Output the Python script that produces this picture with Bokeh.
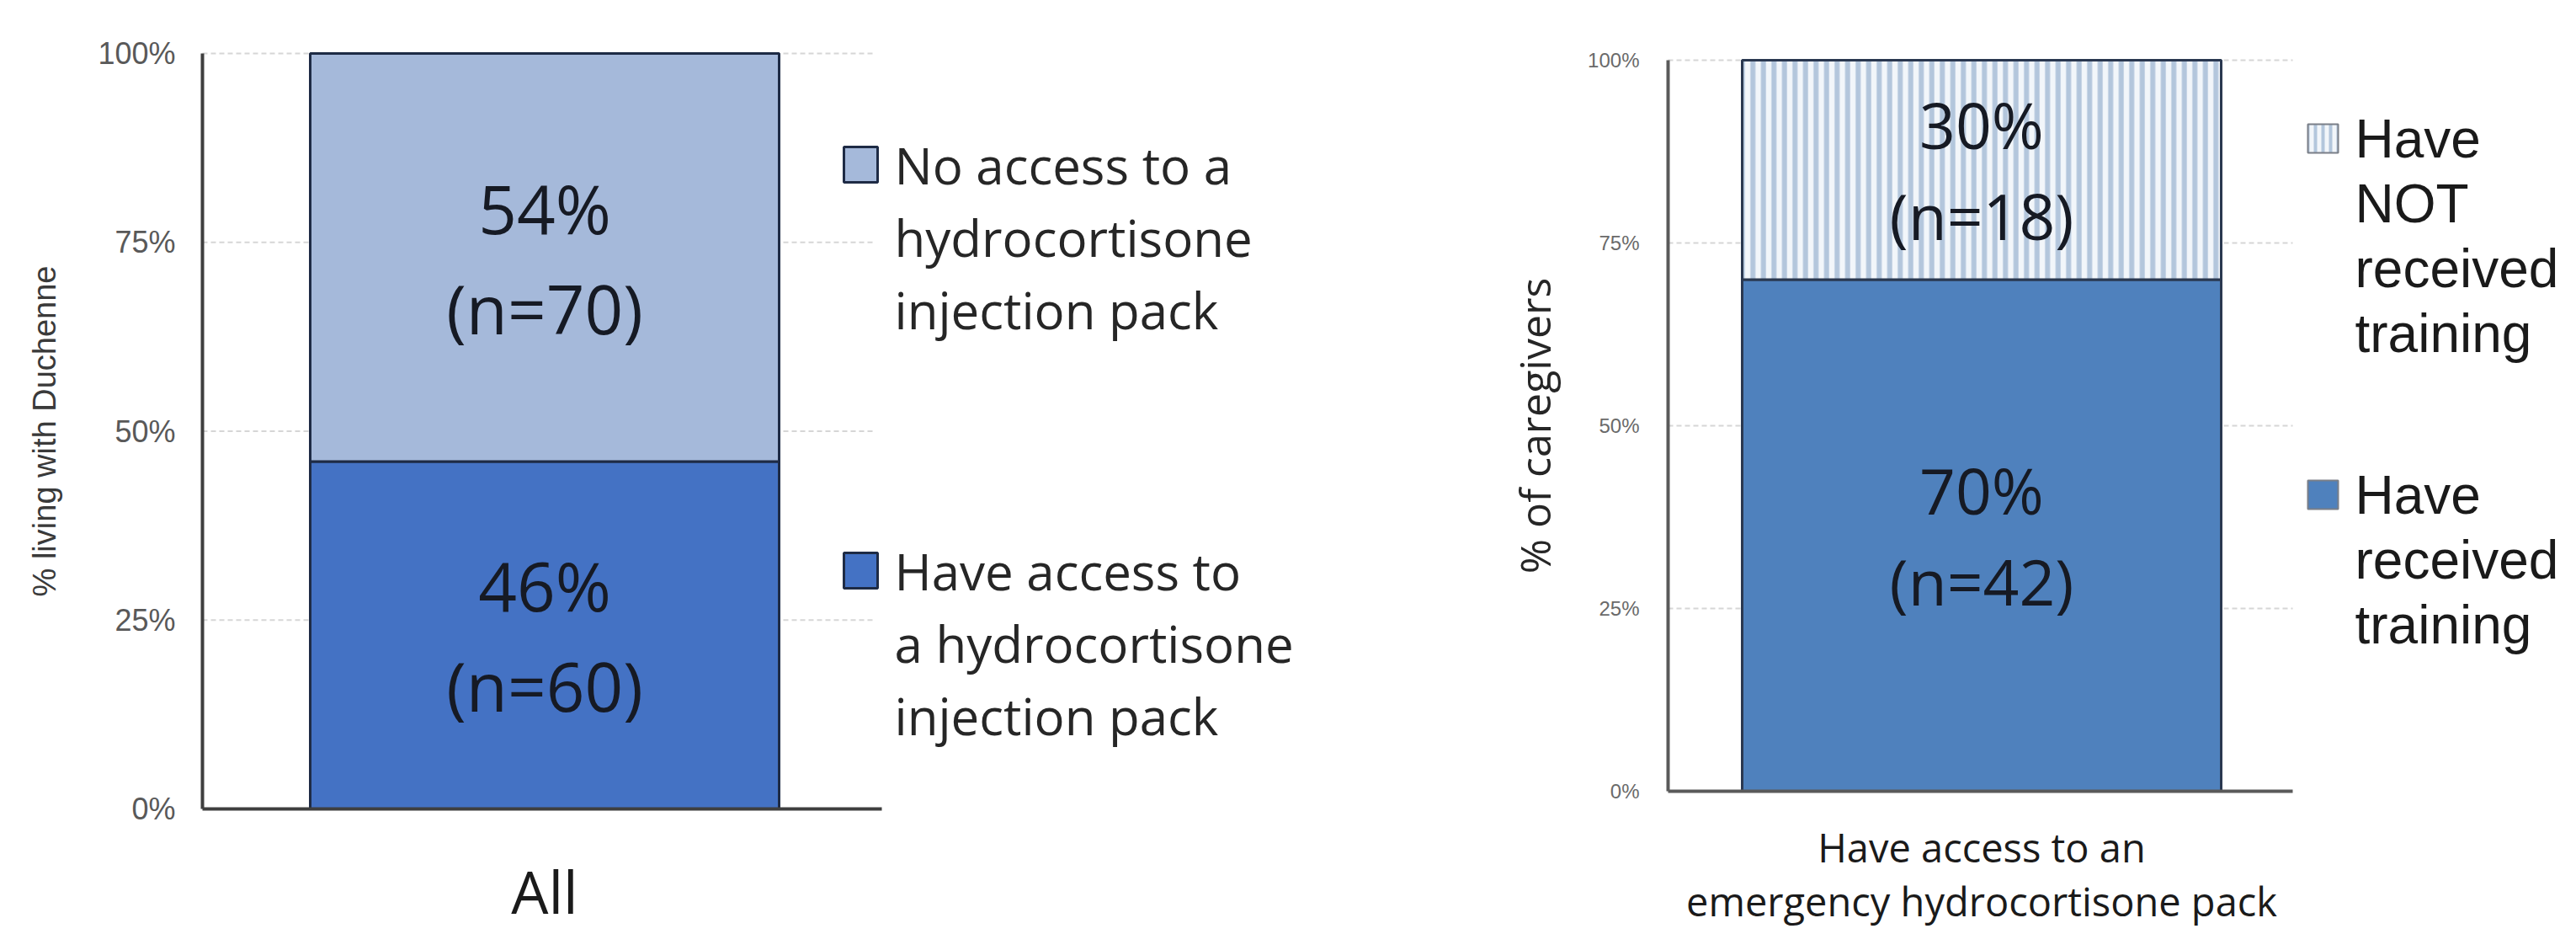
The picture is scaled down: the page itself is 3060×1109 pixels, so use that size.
from bokeh.plotting import figure
from bokeh.models import (Range1d, FixedTicker, NumeralTickFormatter, ColumnDataSource,
                          LinearAxis)
from bokeh.core.properties import value
from bokeh.embed import file_html
from bokeh.resources import INLINE

# ---- data: access to an injection pack (all respondents) ----
access_category = "All"
access_segments = ["Have access", "No access"]
access_pct = [46, 54]
access_n = [60, 70]
access_legend = [
    ["Have access to", "a hydrocortisone", "injection pack"],
    ["No access to a", "hydrocortisone", "injection pack"],
]

# ---- data: training among those with an emergency pack ----
training_category = ["Have access to an", "emergency hydrocortisone pack"]
training_segments = ["Have received training", "Have NOT received training"]
training_pct = [70, 30]
training_n = [42, 18]
training_legend = [
    ["Have", "received", "training"],
    ["Have", "NOT", "received", "training"],
]

y_ticks = [0, 0.25, 0.5, 0.75, 1.0]

W, H = 3060, 1109
GRID = "#D6D6D6"


def stacked(pcts):
    bottoms, tops, acc = [], [], 0.0
    for v in pcts:
        bottoms.append(acc)
        acc += v / 100.0
        tops.append(acc)
    return bottoms, tops


# Both panels share one canvas; each panel has its own pair of ranges.
# Panel geometry in canvas pixels: bar centre/width and where 0 % and 100 % sit.
L_AXIS_X, L_AXIS_END, L_BAR_C, L_BAR_W, L_Y0, L_Y1 = 240, 1047, 646.5, 557.0, 960, 63
R_AXIS_X, R_AXIS_END, R_BAR_C, R_BAR_W, R_Y0, R_Y1 = 1981, 2723, 2353.5, 569.0, 939, 71


def lx(px):
    return (px - L_BAR_C) / L_BAR_W


def ly(py):
    return (L_Y0 - py) / (L_Y0 - L_Y1)


def rx(px):
    return (px - R_BAR_C) / R_BAR_W


def ry(py):
    return (R_Y0 - py) / (R_Y0 - R_Y1)


p = figure(width=W, height=H, output_backend="svg", toolbar_location=None,
           x_range=Range1d(lx(0), lx(W)), y_range=Range1d(ly(H), ly(0)),
           x_axis_location=None, y_axis_location=None,
           min_border=0, min_border_left=0, min_border_right=0,
           min_border_top=0, min_border_bottom=0)
p.extra_x_ranges = {"r": Range1d(rx(0), rx(W))}
p.extra_y_ranges = {"r": Range1d(ry(H), ry(0))}
p.grid.visible = False
p.outline_line_color = None
p.background_fill_color = "white"
p.border_fill_color = "white"

R = dict(x_range_name="r", y_range_name="r")


def add_axes(rng, axis_x, axis_end, xfun, tick_size, tick_color, tick_standoff,
             title, title_font, title_size, title_color, title_standoff,
             cat_label, cat_size, cat_standoff, cat_line_height, axis_color):
    yax = LinearAxis(fixed_location=xfun(axis_x), ticker=FixedTicker(ticks=y_ticks),
                     formatter=NumeralTickFormatter(format="0%"), bounds=(0, 1),
                     **rng)
    yax.major_tick_line_color = None
    yax.minor_tick_line_color = None
    yax.major_tick_out = 0
    yax.minor_tick_out = 0
    yax.axis_line_color = axis_color
    yax.axis_line_width = 4
    yax.major_label_text_font = "Liberation Sans"
    yax.major_label_text_font_size = tick_size
    yax.major_label_text_color = tick_color
    yax.major_label_standoff = tick_standoff
    yax.axis_label = title
    yax.axis_label_text_font = title_font
    yax.axis_label_text_font_size = title_size
    yax.axis_label_text_font_style = "normal"
    yax.axis_label_text_color = title_color
    yax.axis_label_standoff = title_standoff
    p.add_layout(yax, "left")

    xax = LinearAxis(fixed_location=0, ticker=FixedTicker(ticks=[0]),
                     bounds=(xfun(axis_x), xfun(axis_end)), **rng)
    xax.major_tick_line_color = None
    xax.minor_tick_line_color = None
    xax.major_tick_out = 0
    xax.minor_tick_out = 0
    xax.axis_line_color = axis_color
    xax.axis_line_width = 4
    xax.major_label_overrides = {0: cat_label}
    xax.major_label_text_font = "Open Sans"
    xax.major_label_text_font_size = cat_size
    xax.major_label_text_color = "#1A1A1A"
    xax.major_label_text_line_height = cat_line_height
    xax.major_label_standoff = cat_standoff
    p.add_layout(xax, "below")


gy = y_ticks[1:]

# ================= left panel =================
p.segment(x0=[lx(L_AXIS_X)] * len(gy), x1=[lx(1040)] * len(gy), y0=gy, y1=gy,
          line_color=GRID, line_width=2, line_dash="6 4")

l_bot, l_top = stacked(access_pct)
l_colors = ["#4472C4", "#A5B9DA"]
p.vbar(x=[0] * len(access_pct), bottom=l_bot, top=l_top, width=1.0,
       fill_color=l_colors, line_color="#1E2B45", line_width=3)

l_src = ColumnDataSource(dict(
    x=[0] * len(access_pct),
    y=[(b + t) / 2 for b, t in zip(l_bot, l_top)],
    text=[f"{v}%\n(n={n})" for v, n in zip(access_pct, access_n)],
))
p.text(x="x", y="y", text="text", source=l_src, text_align="center",
       text_baseline="middle", text_font=value("Open Sans"),
       text_font_size="80px", text_line_height=1.09, text_color="#161A24")

l_leg_first = [677, 195]
l_leg_gap = 86
for i, lines in enumerate(access_legend):
    cy = l_leg_first[i]
    p.rect(x=[lx(1022)], y=[ly(cy)], width=40 / L_BAR_W, height=42 / (L_Y0 - L_Y1),
           fill_color=l_colors[i], line_color="#1E2B45", line_width=3)
    p.text(x=[lx(1062)] * len(lines),
           y=[ly(cy + k * l_leg_gap) for k in range(len(lines))],
           text=lines, text_align="left", text_baseline="middle",
           text_font=value("Open Sans"), text_font_size="60px", text_color="#262626")

add_axes({}, L_AXIS_X, L_AXIS_END, lx, "36px", "#595959", 32,
         "% living with Duchenne", "Liberation Sans", "38px", "#3A3A3A", 39,
         access_category, "70px", 49, 1.2, "#3F3F3F")

# ================= right panel =================
p.segment(x0=[rx(R_AXIS_X)] * len(gy), x1=[rx(R_AXIS_END)] * len(gy), y0=gy, y1=gy,
          line_color=GRID, line_width=2, line_dash="6 4", **R)

r_bot, r_top = stacked(training_pct)
r_fill = ["#4F81BD", "#F2F6FA"]
r_hatch = [None, "vertical_line"]
for i in range(len(training_pct)):
    p.vbar(x=[0], bottom=[r_bot[i]], top=[r_top[i]], width=1.0,
           fill_color=r_fill[i], line_color="#2A3850", line_width=3,
           hatch_pattern=r_hatch[i], hatch_color="#B3C6DC",
           hatch_weight=6, hatch_scale=12.5, **R)

r_src = ColumnDataSource(dict(
    x=[0] * len(training_pct),
    y=[(b + t) / 2 for b, t in zip(r_bot, r_top)],
    text=[f"{v}%\n(n={n})" for v, n in zip(training_pct, training_n)],
))
p.text(x="x", y="y", text="text", source=r_src, text_align="center",
       text_baseline="middle", text_font=value("Open Sans"),
       text_font_size="75px", text_line_height=1.06, text_color="#161A24", **R)

r_leg_first = [587, 164]
r_leg_gap = 77
for i, lines in enumerate(training_legend):
    cy = r_leg_first[i]
    p.rect(x=[rx(2759)], y=[ry(cy)], width=36 / R_BAR_W, height=34 / (R_Y0 - R_Y1),
           fill_color=r_fill[i], line_color="#7A7F88", line_width=2,
           hatch_pattern=r_hatch[i], hatch_color="#B3C6DC",
           hatch_weight=4, hatch_scale=9, **R)
    p.text(x=[rx(2797)] * len(lines),
           y=[ry(cy + k * r_leg_gap) for k in range(len(lines))],
           text=lines, text_align="left", text_baseline="middle",
           text_font=value("Liberation Sans"), text_font_size="64px",
           text_color="#1A1A1A", **R)

add_axes(R, R_AXIS_X, R_AXIS_END, rx, "24px", "#6A6A6A", 34,
         "% of caregivers", "Open Sans", "50px", "#262626", 26,
         "\n".join(training_category), "47px", 34, 1.0, "#5A5A5A")

open("out.html", "w").write(file_html(p, INLINE))
